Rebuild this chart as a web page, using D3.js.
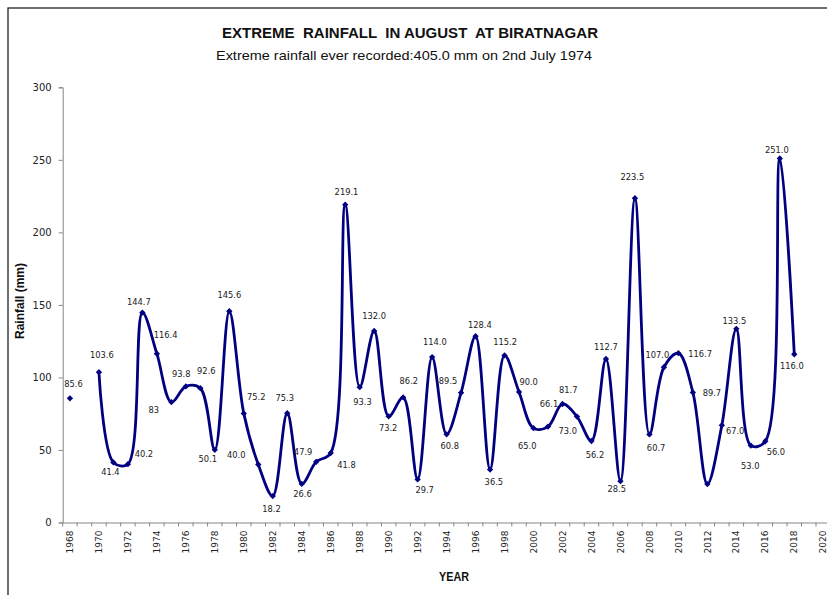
<!DOCTYPE html>
<html>
<head>
<meta charset="utf-8">
<script src="https://cdn.jsdelivr.net/npm/d3@7"></script>
<style>
  body { margin: 0; background: #fff; }
  svg text { white-space: pre; }
</style>
</head>
<body>
<div id="chart"></div>
<script>
// Годы наблюдений (1969 - нет данных).
const years = [
  1968, 1969, 1970, 1971, 1972, 1973, 1974, 1975, 1976, 1977, 1978, 1979,
  1980, 1981, 1982, 1983, 1984, 1985, 1986, 1987, 1988, 1989, 1990, 1991,
  1992, 1993, 1994, 1995, 1996, 1997, 1998, 1999, 2000, 2001, 2002, 2003,
  2004, 2005, 2006, 2007, 2008, 2009, 2010, 2011, 2012, 2013, 2014, 2015,
  2016, 2017, 2018,
];

// Максимальные осадки за август, мм.
const rainfall = [
  85.6, null, 103.6, 41.4, 40.2, 144.7, 116.4, 83, 93.8, 92.6, 50.1, 145.6,
  75.2, 40.0, 18.2, 75.3, 26.6, 41.8, 47.9, 219.1, 93.3, 132.0, 73.2, 86.2,
  29.7, 114.0, 60.8, 89.5, 128.4, 36.5, 115.2, 90.0, 65.0, 66.1, 81.7, 73.0,
  56.2, 112.7, 28.5, 223.5, 60.7, 107.0, 116.7, 89.7, 26.5, 67.0, 133.5, 53.0,
  56.0, 251.0, 116.0,
];

// Подписи точек (как в оригинале, у 2012 подписи нет).
const pointLabels = [
  "85.6", null, "103.6", "41.4", "40.2", "144.7", "116.4", "83", "93.8", "92.6", "50.1", "145.6",
  "75.2", "40.0", "18.2", "75.3", "26.6", "41.8", "47.9", "219.1", "93.3", "132.0", "73.2", "86.2",
  "29.7", "114.0", "60.8", "89.5", "128.4", "36.5", "115.2", "90.0", "65.0", "66.1", "81.7", "73.0",
  "56.2", "112.7", "28.5", "223.5", "60.7", "107.0", "116.7", "89.7", null, "67.0", "133.5", "53.0",
  "56.0", "251.0", "116.0",
];

// Сдвиг подписи относительно точки (px).
const labelOffsets = [
  [3.5, -14], null, [3, -17], [-3, 10], [16, -10], [-3.5, -10.3], [8.7, -18.6], [-17.5, 8],
  [-4.6, -12.4], [6, -17.5], [-7, 9.5], [0, -16], [12.5, -16.7], [-22, -9.5], [-1.3, 13.2],
  [-2.5, -15], [0.8, 10], [30.3, 3.1], [-27.6, -1.3], [1.3, -12.7], [2.8, 15.2], [0, -15],
  [-0.5, 12], [5.7, -16.4], [7, 11], [2.7, -14.8], [3.2, 11.4], [-13, -11.7], [4.3, -11.2],
  [3.8, 12.2], [0.6, -13], [9.6, -10.2], [-6.3, 17.5], [1, -22.6], [5.8, -14], [-9.3, 14],
  [3.5, 14], [0, -11.7], [-3.7, 7.8], [-2.6, -21.6], [6.7, 14], [-6.5, -12.3], [21.7, 0.8],
  [19, 0.3], null, [13.3, 5.4], [-2, -7.5], [-0.6, 20], [10.6, 10.4], [-3, -8.4], [-2.4, 11.5],
];

// Категории оси X (ось идёт до 2020).
const axisYears = [
  1968, 1969, 1970, 1971, 1972, 1973, 1974, 1975, 1976, 1977, 1978, 1979,
  1980, 1981, 1982, 1983, 1984, 1985, 1986, 1987, 1988, 1989, 1990, 1991,
  1992, 1993, 1994, 1995, 1996, 1997, 1998, 1999, 2000, 2001, 2002, 2003,
  2004, 2005, 2006, 2007, 2008, 2009, 2010, 2011, 2012, 2013, 2014, 2015,
  2016, 2017, 2018, 2019, 2020,
];
const xTickYears = [
  1968, 1970, 1972, 1974, 1976, 1978, 1980, 1982, 1984, 1986, 1988, 1990,
  1992, 1994, 1996, 1998, 2000, 2002, 2004, 2006, 2008, 2010, 2012, 2014,
  2016, 2018, 2020,
];
const yTicks = [0, 50, 100, 150, 200, 250, 300];

const titleText = "EXTREME  RAINFALL  IN AUGUST  AT BIRATNAGAR";
const subtitleText = "Extreme rainfall ever recorded:405.0 mm on 2nd July 1974";

function drawChart(containerId) {
  const width = 827;
  const height = 595;
  const plot = { left: 62.7, right: 830.5, top: 87.3, bottom: 522.5 };
  const lineColor = "#000080";
  // Arial Narrow нет - берём Liberation Sans и сжимаем через textLength.
  const arial = "'Liberation Sans', Arial, sans-serif";

  const svg = d3
    .select(`#${containerId}`)
    .append("svg")
    .attr("width", width)
    .attr("height", height)
    .attr("viewBox", `0 0 ${width} ${height}`);

  // Рамка области диаграммы (правый и нижний края за кадром).
  svg
    .append("rect")
    .attr("x", 8)
    .attr("y", 8)
    .attr("width", 840)
    .attr("height", 620)
    .attr("fill", "none")
    .attr("stroke", "#222")
    .attr("stroke-width", 1.3);

  const xScale = d3
    .scaleBand()
    .domain(axisYears)
    .range([plot.left, plot.right])
    .padding(0);

  const yScale = d3
    .scaleLinear()
    .domain([0, 300])
    .range([plot.bottom, plot.top]);

  const cx = (year) => xScale(year) + xScale.bandwidth() / 2;

  // Ось Y.
  const yAxis = svg
    .append("g")
    .attr("transform", `translate(${plot.left}, 0)`)
    .call(d3.axisLeft(yScale).tickValues(yTicks).tickSize(4).tickPadding(7));
  yAxis.selectAll("path, line").attr("stroke", "#868686");
  yAxis
    .selectAll("text")
    .attr("font-family", "'DejaVu Sans', sans-serif")
    .attr("font-size", "10px")
    .attr("fill", "#222");

  // Ось X: подписи по центрам категорий, засечки между категориями.
  const xAxis = svg
    .append("g")
    .attr("transform", `translate(0, ${plot.bottom})`)
    .call(d3.axisBottom(xScale).tickValues(xTickYears).tickSize(0));
  xAxis.select(".domain").attr("stroke", "#868686");
  xAxis
    .selectAll("text")
    .attr("transform", "rotate(-90)")
    .attr("text-anchor", "end")
    .attr("x", -8)
    .attr("y", 0)
    .attr("dy", "0.35em")
    .attr("font-family", "'DejaVu Sans', sans-serif")
    .attr("font-size", "9px")
    .attr("fill", "#222");

  xAxis
    .selectAll(".cat-tick")
    .data(axisYears)
    .join("line")
    .attr("class", "cat-tick")
    .attr("x1", (d) => xScale(d))
    .attr("x2", (d) => xScale(d))
    .attr("y1", 0)
    .attr("y2", 4)
    .attr("stroke", "#868686");

  const points = years.map((year, i) => ({
    year: year,
    value: rainfall[i],
    label: pointLabels[i],
    offset: labelOffsets[i],
  }));

  // Сглаженная линия, с разрывом на 1969.
  const line = d3
    .line()
    .defined((d) => d.value !== null)
    .x((d) => cx(d.year))
    .y((d) => yScale(d.value))
    .curve(d3.curveCatmullRom.alpha(0.5));

  svg
    .append("path")
    .datum(points)
    .attr("fill", "none")
    .attr("stroke", lineColor)
    .attr("stroke-width", 2.8)
    .attr("stroke-linejoin", "round")
    .attr("d", line);

  const valid = points.filter((d) => d.value !== null);

  svg
    .selectAll(".marker")
    .data(valid)
    .join("path")
    .attr("class", "marker")
    .attr("d", d3.symbol(d3.symbolSquare).size(20))
    .attr("transform", (d) => `translate(${cx(d.year)}, ${yScale(d.value)}) rotate(45)`)
    .attr("fill", lineColor);

  svg
    .selectAll(".point-label")
    .data(valid.filter((d) => d.label !== null))
    .join("text")
    .attr("class", "point-label")
    .attr("x", (d) => cx(d.year) + d.offset[0])
    .attr("y", (d) => yScale(d.value) + d.offset[1])
    .attr("dy", "0.35em")
    .attr("text-anchor", "middle")
    .attr("font-family", "'DejaVu Sans', sans-serif")
    .attr("font-size", "8.3px")
    .attr("fill", "#222")
    .text((d) => d.label);

  // Заголовки.
  svg
    .append("text")
    .attr("x", 410)
    .attr("y", 38)
    .attr("text-anchor", "middle")
    .attr("font-family", arial)
    .attr("font-weight", "bold")
    .attr("font-size", "14px")
    .attr("textLength", 376)
    .attr("lengthAdjust", "spacingAndGlyphs")
    .attr("fill", "#111")
    .text(titleText);

  svg
    .append("text")
    .attr("x", 404)
    .attr("y", 60)
    .attr("text-anchor", "middle")
    .attr("font-family", arial)
    .attr("font-size", "13.5px")
    .attr("textLength", 376)
    .attr("lengthAdjust", "spacingAndGlyphs")
    .attr("fill", "#111")
    .text(subtitleText);

  svg
    .append("text")
    .attr("transform", "translate(24, 301) rotate(-90)")
    .attr("text-anchor", "middle")
    .attr("font-family", arial)
    .attr("font-weight", "bold")
    .attr("font-size", "12px")
    .attr("fill", "#111")
    .text("Rainfall (mm)");

  svg
    .append("text")
    .attr("x", 454)
    .attr("y", 581)
    .attr("text-anchor", "middle")
    .attr("font-family", arial)
    .attr("font-weight", "bold")
    .attr("font-size", "13px")
    .attr("textLength", 30)
    .attr("lengthAdjust", "spacingAndGlyphs")
    .attr("fill", "#111")
    .text("YEAR");
}

document.addEventListener("DOMContentLoaded", () => {
  drawChart("chart");
});
</script>
</body>
</html>
